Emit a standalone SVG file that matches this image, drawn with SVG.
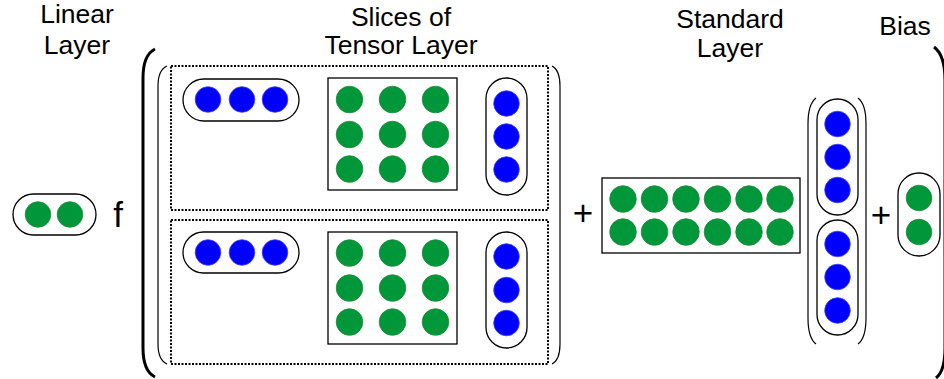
<svg xmlns="http://www.w3.org/2000/svg" width="944" height="379" viewBox="0 0 944 379">
<style>
.t{font-family:"Liberation Sans",Arial,sans-serif;font-size:26.5px;fill:#000;text-anchor:middle}
.op{font-family:"Liberation Sans",Arial,sans-serif;font-size:35px;fill:#000;text-anchor:middle}
.g{fill:#00963a;stroke:#1f8a3a;stroke-width:0.8}
.b{fill:#0000ff;stroke:#3a3aff;stroke-width:0.8}
.pill{fill:#fff;stroke:#000;stroke-width:1.3}
.box{fill:#fff;stroke:#000;stroke-width:1.3}
.dot{fill:none;stroke:#000;stroke-width:2;stroke-dasharray:2 1.5}
.thin{fill:none;stroke:#000;stroke-width:1.2}
.thick{fill:none;stroke:#000;stroke-width:3}
</style>

<g id="labels">
<text class="t" x="77" y="23">Linear</text>
<text class="t" x="77" y="54">Layer</text>
<text class="t" x="401" y="26">Slices of</text>
<text class="t" x="401" y="54">Tensor Layer</text>
<text class="t" x="730" y="28">Standard</text>
<text class="t" x="730" y="57">Layer</text>
<text class="t" x="905" y="35">Bias</text>
</g>

<g id="linear">
<rect class="pill" x="13" y="194" width="83" height="41" rx="20.5"/>
<circle class="g" cx="38" cy="214.5" r="12.8"/>
<circle class="g" cx="70" cy="214.5" r="12.8"/>
</g>

<g id="f"><text class="op" x="118" y="227">f</text></g>

<g id="brackets">
<path class="thick" d="M155,49 Q143,55 143,78 L143,348 Q143,371 155,377"/>
<path class="thin" d="M167,66 Q158,70 158,86 L158,344 Q158,360 167,364"/>
<path class="thin" d="M552,66 Q560,70 560,86 L560,344 Q560,360 552,364"/>
<path class="thick" d="M934,47 Q945,55 945,80 L945,348 Q945,371 936,378"/>
<path class="thin" d="M816,98 Q808,104 808,124 L808,318 Q808,338 816,344"/>
<path class="thin" d="M858,98 Q866,104 866,124 L866,318 Q866,338 858,344"/>
</g>

<g id="slice1">
<rect class="dot" x="171" y="66" width="377" height="144"/>
<rect class="pill" x="183" y="79" width="116" height="42" rx="21"/>
<circle class="b" cx="208" cy="99.5" r="12.8"/>
<circle class="b" cx="242" cy="99.5" r="12.8"/>
<circle class="b" cx="275" cy="99.5" r="12.8"/>
<rect class="box" x="328" y="78" width="129" height="112"/>
<circle class="g" cx="349.5" cy="99.5" r="13.3"/>
<circle class="g" cx="392.5" cy="99.5" r="13.3"/>
<circle class="g" cx="435.5" cy="99.5" r="13.3"/>
<circle class="g" cx="349.5" cy="134.5" r="13.3"/>
<circle class="g" cx="392.5" cy="134.5" r="13.3"/>
<circle class="g" cx="435.5" cy="134.5" r="13.3"/>
<circle class="g" cx="349.5" cy="169" r="13.3"/>
<circle class="g" cx="392.5" cy="169" r="13.3"/>
<circle class="g" cx="435.5" cy="169" r="13.3"/>
<rect class="pill" x="486" y="78" width="41" height="117" rx="20.5"/>
<circle class="b" cx="506.5" cy="103.5" r="12.8"/>
<circle class="b" cx="506.5" cy="136.5" r="12.8"/>
<circle class="b" cx="506.5" cy="169.5" r="12.8"/>
</g>

<g id="slice2">
<rect class="dot" x="171" y="220" width="377" height="144"/>
<rect class="pill" x="183" y="232" width="116" height="41" rx="20.5"/>
<circle class="b" cx="208" cy="252.5" r="12.8"/>
<circle class="b" cx="242" cy="252.5" r="12.8"/>
<circle class="b" cx="275" cy="252.5" r="12.8"/>
<rect class="box" x="328" y="232" width="129" height="112"/>
<circle class="g" cx="349.5" cy="253" r="13.3"/>
<circle class="g" cx="392.5" cy="253" r="13.3"/>
<circle class="g" cx="435.5" cy="253" r="13.3"/>
<circle class="g" cx="349.5" cy="288" r="13.3"/>
<circle class="g" cx="392.5" cy="288" r="13.3"/>
<circle class="g" cx="435.5" cy="288" r="13.3"/>
<circle class="g" cx="349.5" cy="322" r="13.3"/>
<circle class="g" cx="392.5" cy="322" r="13.3"/>
<circle class="g" cx="435.5" cy="322" r="13.3"/>
<rect class="pill" x="486" y="232" width="41" height="116" rx="20.5"/>
<circle class="b" cx="506.5" cy="256.5" r="12.8"/>
<circle class="b" cx="506.5" cy="290" r="12.8"/>
<circle class="b" cx="506.5" cy="323" r="12.8"/>
</g>

<g id="plus1"><text class="op" x="583" y="225">+</text></g>

<g id="standard">
<rect class="box" x="602" y="178" width="198" height="75"/>
<circle class="g" cx="623" cy="199" r="13.3"/>
<circle class="g" cx="654.5" cy="199" r="13.3"/>
<circle class="g" cx="686" cy="199" r="13.3"/>
<circle class="g" cx="717.5" cy="199" r="13.3"/>
<circle class="g" cx="749" cy="199" r="13.3"/>
<circle class="g" cx="780" cy="199" r="13.3"/>
<circle class="g" cx="623" cy="232" r="13.3"/>
<circle class="g" cx="654.5" cy="232" r="13.3"/>
<circle class="g" cx="686" cy="232" r="13.3"/>
<circle class="g" cx="717.5" cy="232" r="13.3"/>
<circle class="g" cx="749" cy="232" r="13.3"/>
<circle class="g" cx="780" cy="232" r="13.3"/>
</g>

<g id="column">
<rect class="pill" x="817" y="99" width="41" height="116" rx="20.5"/>
<circle class="b" cx="837.5" cy="124" r="12.8"/>
<circle class="b" cx="837.5" cy="157" r="12.8"/>
<circle class="b" cx="837.5" cy="190" r="12.8"/>
<rect class="pill" x="817" y="220" width="41" height="115" rx="20.5"/>
<circle class="b" cx="837.5" cy="244" r="12.8"/>
<circle class="b" cx="837.5" cy="277" r="12.8"/>
<circle class="b" cx="837.5" cy="310.5" r="12.8"/>
</g>

<g id="plus2"><text class="op" x="881" y="227">+</text></g>

<g id="bias">
<rect class="pill" x="898" y="173" width="42" height="83" rx="21"/>
<circle class="g" cx="919" cy="198" r="12.8"/>
<circle class="g" cx="919" cy="232" r="12.8"/>
</g>
</svg>
